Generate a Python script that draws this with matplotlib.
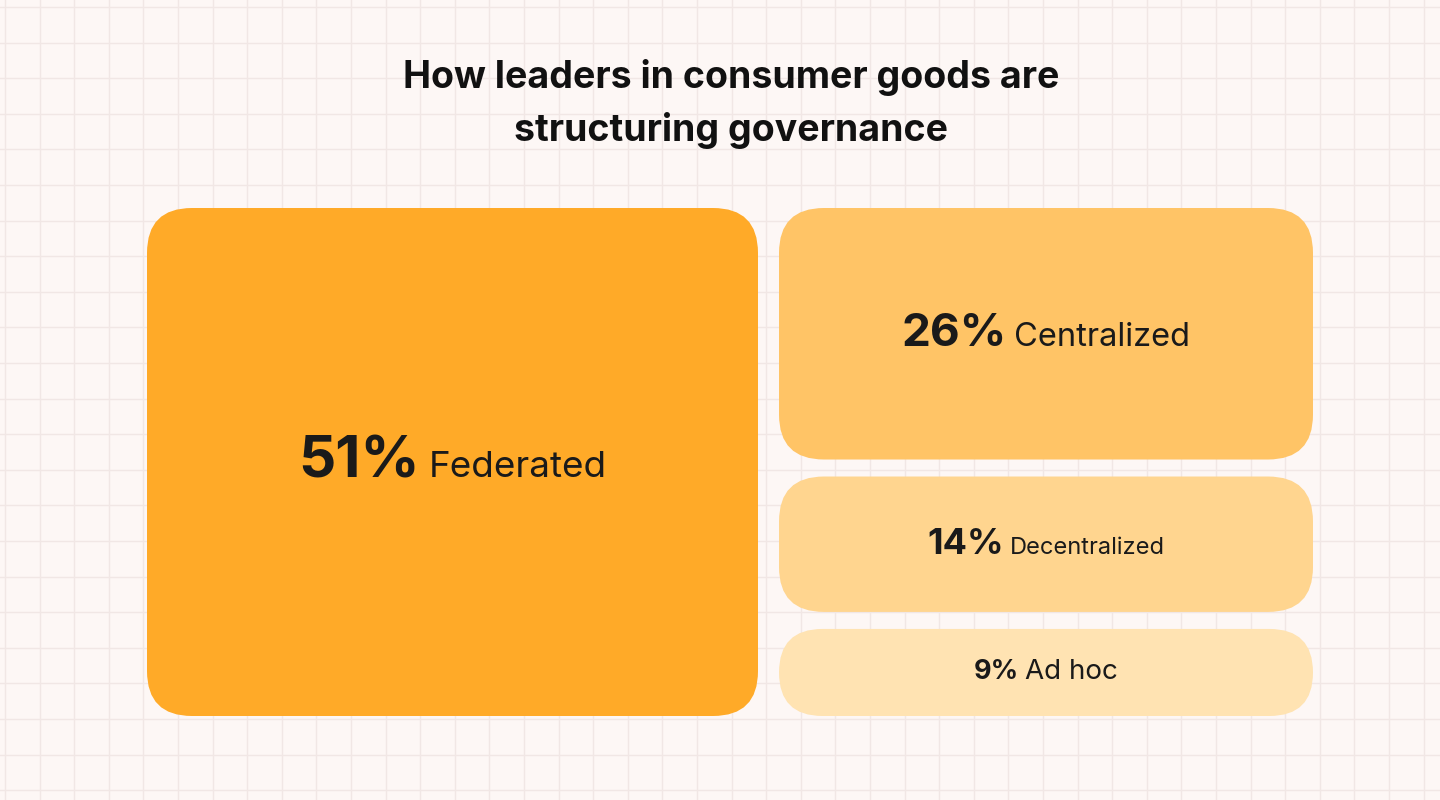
import matplotlib
matplotlib.use("Agg")
import matplotlib.pyplot as plt
from matplotlib.patches import FancyBboxPatch
from matplotlib.offsetbox import TextArea, HPacker, AnnotationBbox
import numpy as np

plt.rcParams['font.family'] = ['Inter', 'DejaVu Sans']

title = "How leaders in consumer goods are\nstructuring governance"
labels = ["Federated", "Centralized", "Decentralized", "Ad hoc"]
shares = [51, 26, 14, 9]
colors = ["#FFAA28", "#FFC466", "#FFD58F", "#FFE3B2"]
pct_sizes = [42, 33, 26, 19.5]
name_sizes = [26.5, 23.5, 17, 20]

bg = "#FDF7F5"
grid_col = "#F1E7E5"
ink = "#1A1A1A"

fig = plt.figure(figsize=(14.4, 8), dpi=100, facecolor=bg)
ax = fig.add_axes([0, 0, 1, 1])
ax.set_xlim(0, 1440)
ax.set_ylim(800, 0)
ax.set_facecolor(bg)
ax.axis("off")

# graph-paper background
for gx in np.arange(5, 1440, 34.6):
    ax.axvline(gx, color=grid_col, lw=1.0, zorder=0)
for gy in np.arange(7, 800, 35.6):
    ax.axhline(gy, color=grid_col, lw=1.0, zorder=0)

ax.text(731, 104, title, ha="center", va="center", fontsize=27, fontweight="bold",
        color="#111111", linespacing=1.55)

# treemap-like layout: biggest share on the left, rest stacked on the right
x0, x1, y0, y1 = 147, 1313, 208, 716
gap = 17
left_frac = 0.534
wl = 611
boxes = [(x0, y0, wl, y1 - y0)]
rest = shares[1:]
avail = (y1 - y0) - gap * (len(rest) - 1)
rx = x0 + wl + 21
rw = x1 - rx
y = y0
for s in rest:
    h = avail * s / sum(rest)
    boxes.append((rx, y, rw, h))
    y += h + gap

for (bx, by, bw, bh), s, lab, c, ps, ns in zip(boxes, shares, labels, colors, pct_sizes, name_sizes):
    r = min(45, bh / 2)
    patch = FancyBboxPatch((bx, by), bw, bh, boxstyle=f"round,pad=0,rounding_size={r}",
                           facecolor=c, edgecolor="none", zorder=2)
    ax.add_patch(patch)
    t1 = TextArea(f"{s}%", textprops=dict(fontsize=ps, fontweight="bold", color=ink))
    t2 = TextArea(lab, textprops=dict(fontsize=ns, color=ink))
    pack = HPacker(children=[t1, t2], align="baseline", pad=0, sep=ns * 0.22)
    ab = AnnotationBbox(pack, (bx + bw / 2, by + bh / 2), xycoords="data",
                        box_alignment=(0.5, 0.5), frameon=False, zorder=3)
    ax.add_artist(ab)

fig.savefig("out.png", dpi=100, facecolor=bg)
